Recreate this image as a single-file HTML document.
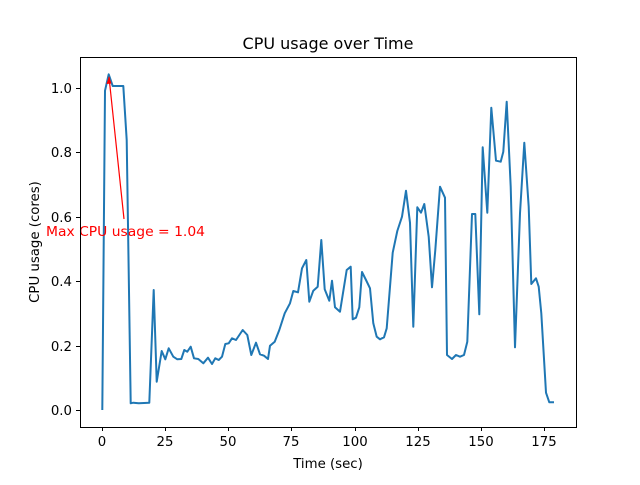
<!DOCTYPE html>
<html><head><meta charset="utf-8"><style>
body{margin:0;background:#fff}
svg text{font-family:"DejaVu Sans","Liberation Sans",sans-serif;}
</style></head><body>
<svg width="640" height="480" xmlns="http://www.w3.org/2000/svg">
<rect width="640" height="480" fill="#fff"/>
<text x="328" y="49" font-size="16" text-anchor="middle">CPU usage over Time</text>
<polyline fill="none" stroke="#1f77b4" stroke-width="2" stroke-linejoin="round" points="102.3,410 105,90.7 108.7,74.3 112.7,86 123.3,86 126.7,140 130.7,403.3 133.3,402.7 138.7,403.3 149.3,402.7 153.7,290 156.7,381.7 161.7,351 165.3,359.3 168.7,348.3 173.3,356.7 177.3,359.3 181.3,359 184.3,350 187.3,351.7 190.7,346.7 194,358.3 198.3,359 203.3,363.3 208,357.7 212,364 215.3,358.3 218.7,360 222,356.7 225.3,344 228.7,343.3 232,338.3 236,340 242.7,330 247.3,335 251.3,355 256,342.7 260,354.3 264,355.7 268,359 270,345.7 274.7,341.7 279.3,330 284.7,313.3 290,303.3 293.3,291 298,292.3 302,268.3 306.3,260 309.3,301.7 313.3,290.7 317.7,286.7 321.3,240 324.7,289.3 329.3,300.7 332,280.7 335,307.3 340,311.7 346.7,270 350.7,266.7 352.7,319.3 356,317.7 359.3,307.3 362,272 366,280 370,288.3 373.3,323.3 376.7,336.7 380,339.3 384,337.3 386.7,328.3 392.7,252.7 397.3,231 402,216.7 406,190.7 410,222.7 413.3,326.7 417.3,207.3 421,212.7 424.3,204 428.7,236.7 432,287.3 435.3,250 440,186.7 445,197.7 447,355 452,359 456,355 460,356.7 464,355 467.3,341.7 472,214 475.3,214 479.3,314.3 482.7,147.3 487.3,212.7 491.3,107.7 496,160.7 500.7,161.7 503.3,151.7 506.7,101.7 510.7,186.7 515,347.3 520,213.3 524.3,142.7 528.7,206.7 531.3,284 536,278.3 538.7,286.7 541.3,313.3 546,392.7 549.3,402.3 554,402.3"/>
<line x1="124" y1="219" x2="109" y2="77" stroke="red" stroke-width="1.2"/>
<polygon points="109,76 106.5,84 111.5,83.5" fill="red"/>
<text x="46" y="236" font-size="13.3" fill="red" textLength="159" lengthAdjust="spacingAndGlyphs">Max CPU usage = 1.04</text>
<rect x="80.5" y="57.5" width="496" height="370" fill="none" stroke="#000" stroke-width="1"/>
<g stroke="#000" stroke-width="1">
<line x1="102.5" y1="427" x2="102.5" y2="431"/><line x1="165.5" y1="427" x2="165.5" y2="431"/><line x1="228.5" y1="427" x2="228.5" y2="431"/><line x1="291.5" y1="427" x2="291.5" y2="431"/><line x1="355.5" y1="427" x2="355.5" y2="431"/><line x1="418.5" y1="427" x2="418.5" y2="431"/><line x1="481.5" y1="427" x2="481.5" y2="431"/><line x1="544.5" y1="427" x2="544.5" y2="431"/>
<line x1="76" y1="410.5" x2="80" y2="410.5"/><line x1="76" y1="346.5" x2="80" y2="346.5"/><line x1="76" y1="281.5" x2="80" y2="281.5"/><line x1="76" y1="217.5" x2="80" y2="217.5"/><line x1="76" y1="152.5" x2="80" y2="152.5"/><line x1="76" y1="88.5" x2="80" y2="88.5"/>
</g>
<g font-size="13.3" text-anchor="middle">
<text x="102" y="446">0</text><text x="165" y="446">25</text><text x="228" y="446">50</text><text x="291" y="446">75</text><text x="355" y="446">100</text><text x="418" y="446">125</text><text x="481" y="446">150</text><text x="544" y="446">175</text>
</g>
<g font-size="13.3" text-anchor="end">
<text x="72" y="415">0.0</text><text x="72" y="351">0.2</text><text x="72" y="286">0.4</text><text x="72" y="222">0.6</text><text x="72" y="157">0.8</text><text x="72" y="93">1.0</text>
</g>
<text x="328" y="468" font-size="13.3" text-anchor="middle">Time (sec)</text>
<text x="0" y="0" font-size="13.3" text-anchor="middle" transform="translate(39,242) rotate(-90)">CPU usage (cores)</text>
</svg>
</body></html>
